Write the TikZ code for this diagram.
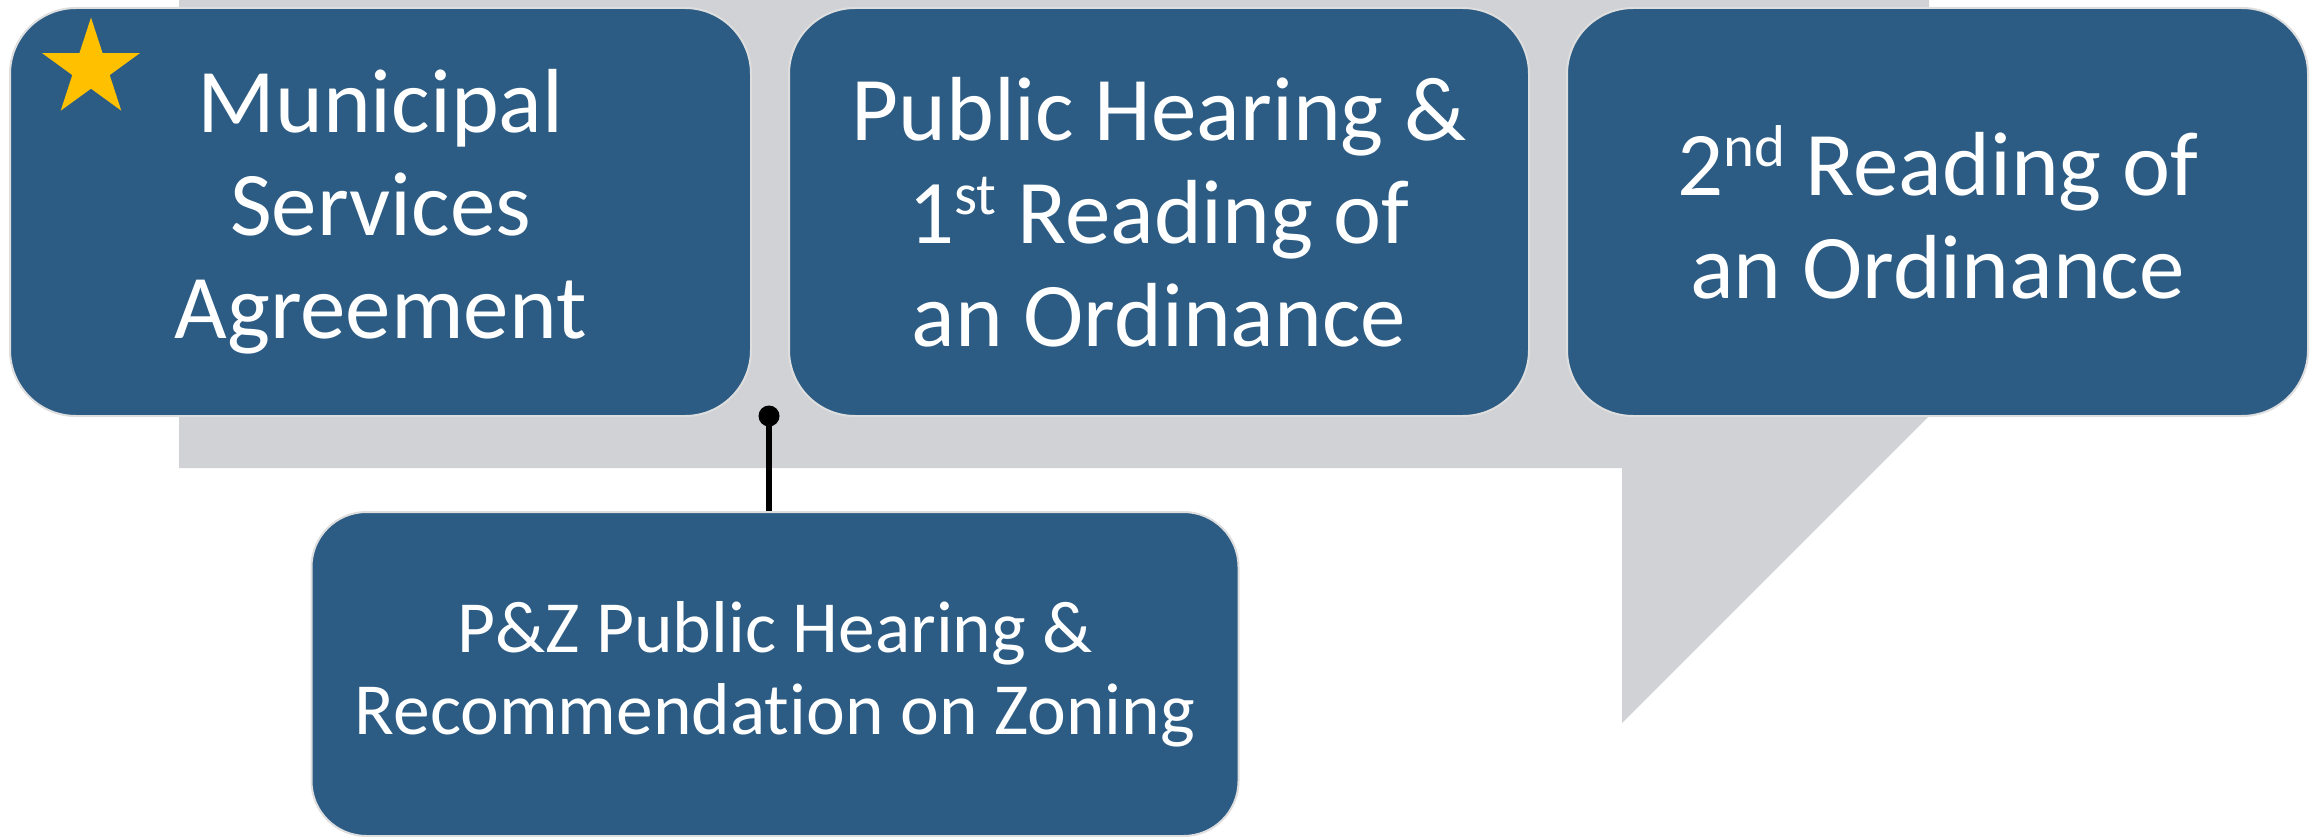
\documentclass[tikz,border=0pt]{standalone}
\usepackage{fontspec}
\setmainfont{Carlito}[Ligatures={NoCommon,NoRequired,NoContextual}]
\usetikzlibrary{shapes.geometric}
\definecolor{boxblue}{RGB}{44,92,132}
\definecolor{arrowgray}{RGB}{208,210,214}
\definecolor{stargold}{RGB}{255,192,0}
\definecolor{edgegray}{RGB}{222,222,222}
\newcommand\supx[1]{\raisebox{29pt}{\fontsize{59}{59}\selectfont #1}}
\begin{document}
\begin{tikzpicture}[x=1pt,y=-1pt,
  stepbox/.style={rectangle, rounded corners=66pt, fill=boxblue, draw=edgegray,
    line width=2pt, text=white, align=center, inner sep=0pt},
  bigtext/.style={font=\fontsize{91}{103}\selectfont},
  smalltext/.style={font=\fontsize{73.5}{82}\selectfont},
  conn/.style={line width=5.5pt, black}]
\useasboundingbox (0,0) rectangle (2318,837);
% large grey arrow behind the steps
\fill[arrowgray] (179,0) -- (1929,0) -- (1929,416) -- (1622,723) -- (1622,468) -- (179,468) -- cycle;
% steps
\node[stepbox, bigtext, minimum width=741pt, minimum height=408pt] (b1) at (380.5,212)
  {Municipal\\Services\\Agreement};
\node[stepbox, bigtext, minimum width=740pt, minimum height=408pt] (b2) at (1159,212)
  {Public Hearing \&\\1\supx{st} Reading of\\an Ordinance};
\node[stepbox, bigtext, minimum width=741pt, minimum height=408pt] (b3) at (1937.5,212)
  {2\supx{nd} Reading of\\an Ordinance};
\node[stepbox, smalltext, rounded corners=55pt, minimum width=927pt, minimum height=324pt] (pz) at (775,674)
  {P\&Z Public Hearing \&\\Recommendation on Zoning};
% star
\node[star, star points=5, star point ratio=2.618, fill=stargold, draw=none,
  inner sep=0pt, minimum size=103pt] (st) at (91,69) {};
% connector
\coordinate (dot) at (769,416);
\draw[conn] (pz.north -| dot) -- (dot);
\fill[black] (dot) circle [radius=10.5pt];
\end{tikzpicture}
\end{document}
